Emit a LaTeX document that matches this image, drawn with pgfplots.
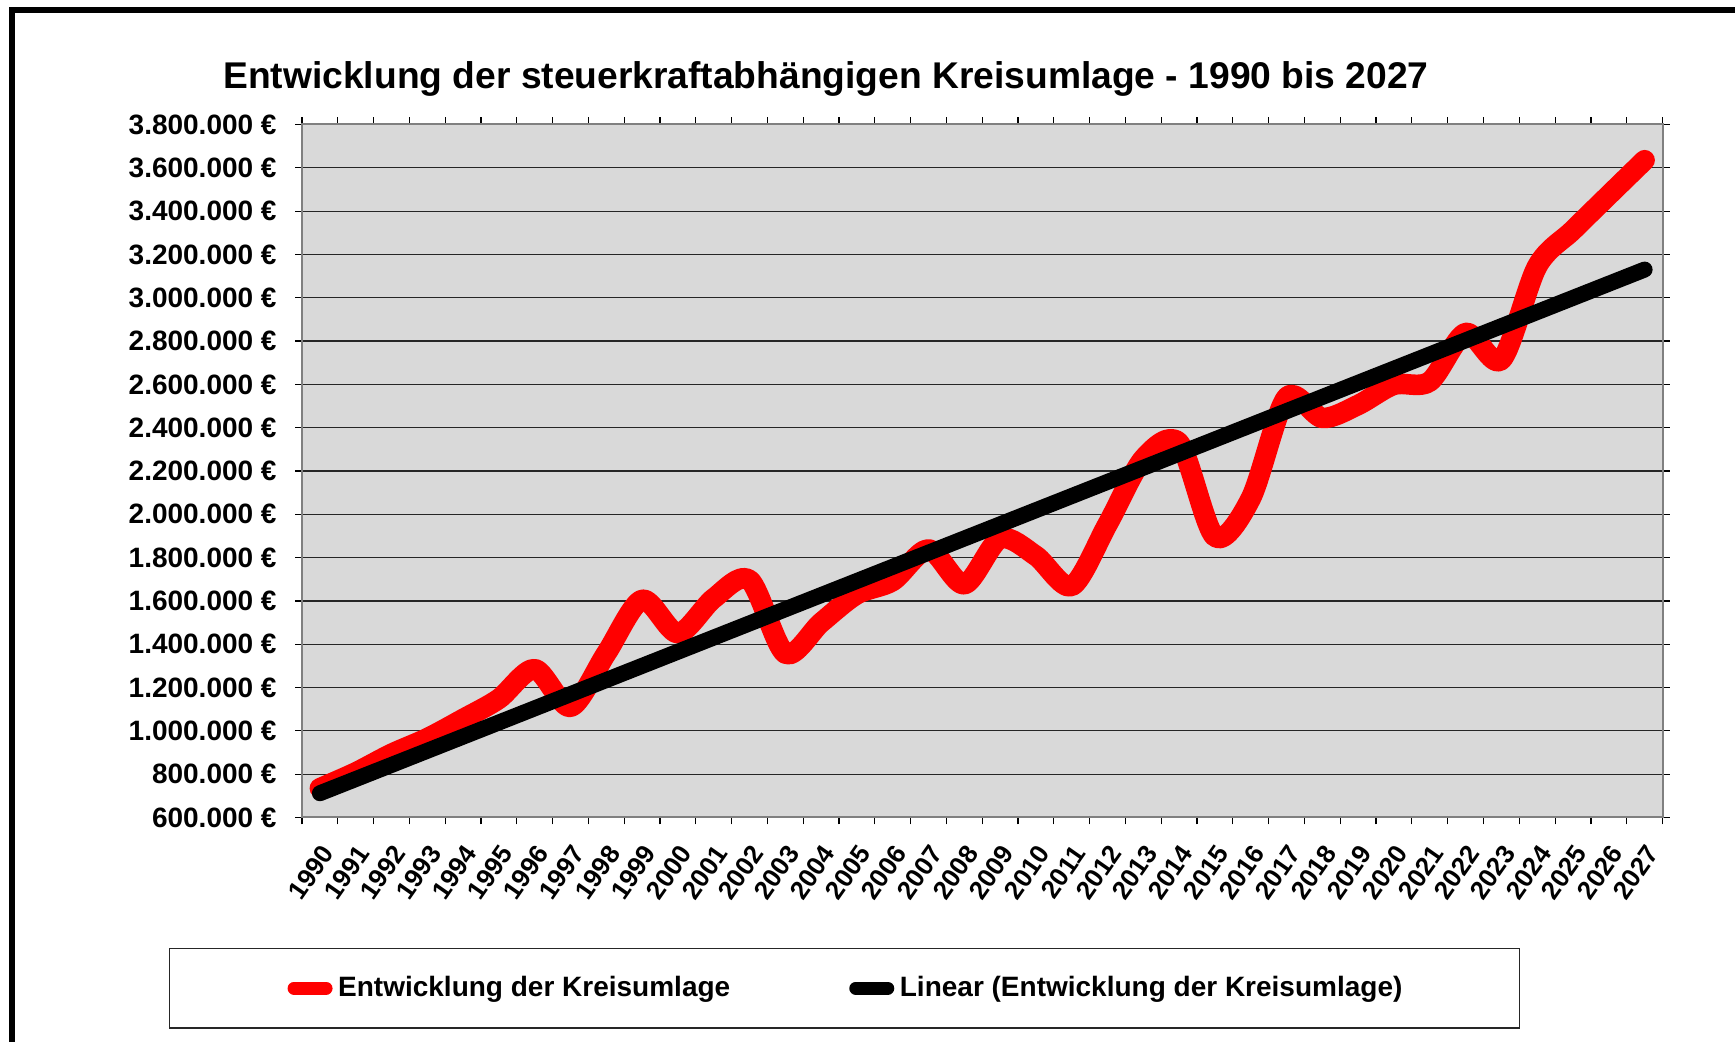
\documentclass[border=0pt]{standalone}
\usepackage{fontspec}
\setmainfont{Liberation Sans}
\usepackage{pgfplots}
\pgfplotsset{compat=1.18}
\definecolor{plotbg}{RGB}{217,217,217}
\definecolor{axgray}{RGB}{128,128,128}
\definecolor{kred}{RGB}{255,0,0}

\pgfplotstableread{
year value
1990 735000
1991 808000
1992 894000
1993 966000
1994 1055000
1995 1148000
1996 1285000
1997 1111000
1998 1358000
1999 1605000
2000 1451000
2001 1612000
2002 1697000
2003 1357000
2004 1500000
2005 1631000
2006 1692000
2007 1838000
2008 1677000
2009 1888000
2010 1808000
2011 1669000
2012 1954000
2013 2257000
2014 2330000
2015 1896000
2016 2073000
2017 2540000
2018 2445000
2019 2505000
2020 2598000
2021 2613000
2022 2837000
2023 2713000
2024 3145000
2025 3312000
2026 3474000
2027 3635000
}\kreisdata

\begin{document}
\begin{tikzpicture}
\useasboundingbox (0,0) rectangle (867.5pt,521pt);
\fill[white] (0,0) rectangle (867.5pt,521pt);
\draw[line width=3.3pt] (6pt,-5pt) -- (6pt,516pt) -- (875pt,516pt);
\node[font=\bfseries\fontsize{18.6}{21}\selectfont] at (413pt,481.3pt) {Entwicklung der steuerkraftabhängigen Kreisumlage - 1990 bis 2027};
\draw[draw=black!85, line width=0.6pt] (84.65pt,7pt) rectangle (759.65pt,46.85pt);
\begin{axis}[
  at={(151pt,112.25pt)}, anchor=south west,
  scale only axis, width=680.25pt, height=346.5pt,
  xmin=1989.5, xmax=2027.5,
  ymin=600000, ymax=3800000,
  clip=false,
  axis background/.style={fill=plotbg},
  axis line style={draw=axgray, line width=1pt},
  ymajorgrids,
  major grid style={draw=black!85, line width=0.6pt},
  tick align=outside,
  major tick length=3.5pt,
  minor tick length=3.5pt,
  tick style={draw=black, line width=0.6pt},
  xtick={1990,1991,...,2027},
  minor xtick={1989.5,1990.5,...,2027.5},
  major x tick style={draw=none},
  ytick={600000,800000,...,3800000},
  yticklabels={600.000 €,800.000 €,1.000.000 €,1.200.000 €,1.400.000 €,1.600.000 €,1.800.000 €,2.000.000 €,2.200.000 €,2.400.000 €,2.600.000 €,2.800.000 €,3.000.000 €,3.200.000 €,3.400.000 €,3.600.000 €,3.800.000 €},
  scaled y ticks=false,
  /pgf/number format/1000 sep={},
  /pgf/number format/assume math mode=true,
  yticklabel style={font=\bfseries\fontsize{14}{16}\selectfont, anchor=east, inner sep=0pt, xshift=-9pt},
  xticklabel style={font=\bfseries\fontsize{13}{15}\selectfont, xshift=4pt, yshift=-12pt, rotate=55, anchor=east, inner sep=0pt},
  legend columns=2,
  legend image code/.code={\draw[#1, line width=6.5pt, line cap=round] (0pt,0pt) -- (16pt,0pt);},
  legend style={draw=none, fill=none, at={(-0.0106,-0.2463)}, anchor=west, inner sep=0pt, outer sep=0pt,
    nodes={inner sep=0pt},
    font=\bfseries\fontsize{14}{16}\selectfont,
    /tikz/every odd column/.append style={column sep=2.8pt},
    /tikz/every even column/.append style={column sep=59.5pt}},
]
\addplot[kred, line width=10.3pt, smooth, line cap=round, line join=round] table[x=year,y=value] {\kreisdata};
\addlegendentry{Entwicklung der Kreisumlage}
\addplot[black, line width=8pt, line cap=round] coordinates {(1990,712000) (2027,3130000)};
\addlegendentry{Linear (Entwicklung der Kreisumlage)}
\end{axis}
\end{tikzpicture}
\end{document}
